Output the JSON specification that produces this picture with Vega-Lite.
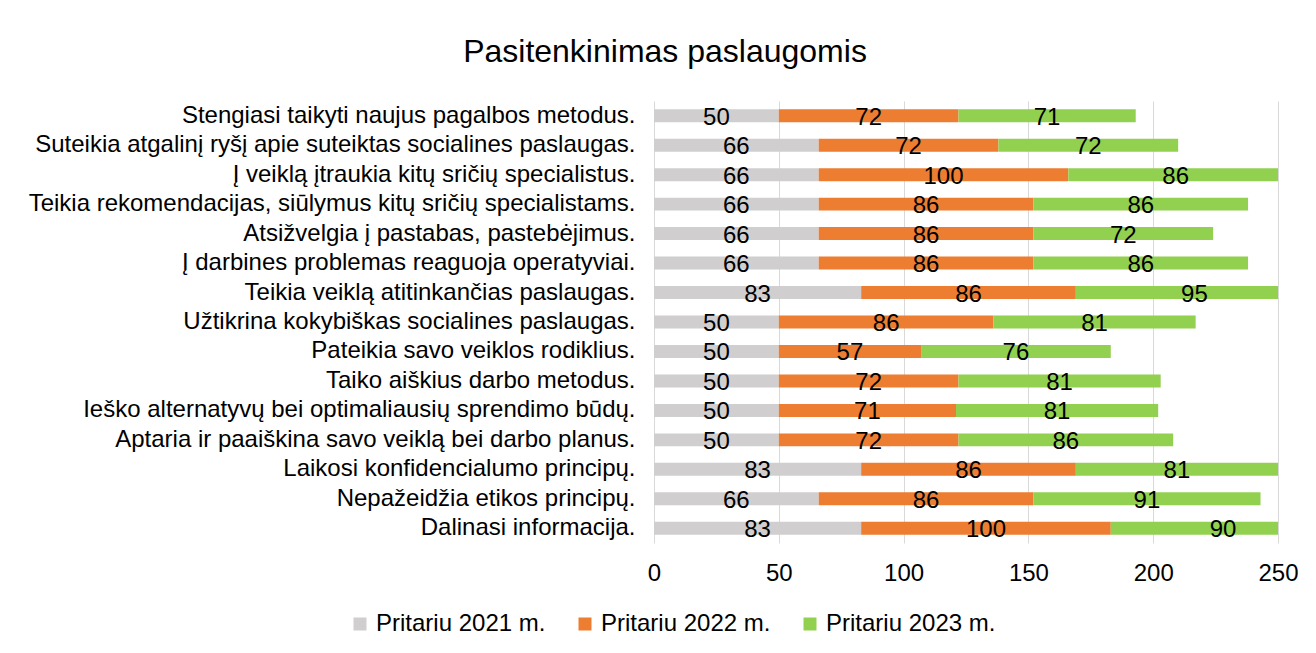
{
  "$schema": "https://vega.github.io/schema/vega-lite/v6.json",
  "width": 624,
  "height": 442,
  "autosize": {"type": "none"},
  "padding": {"left": 654, "top": 101, "right": 38, "bottom": 110},
  "background": "white",
  "title": {
    "text": "Pasitenkinimas paslaugomis",
    "anchor": "middle",
    "frame": "group",
    "dx": -301,
    "offset": 32,
    "font": "Liberation Sans",
    "fontSize": 32,
    "fontWeight": "normal",
    "color": "#000000"
  },
  "config": {
    "view": {"stroke": null},
    "font": "Liberation Sans"
  },
  "data": {
    "values": [
      {"item": "Stengiasi taikyti naujus pagalbos metodus.", "year": "Pritariu 2021 m.", "value": 50},
      {"item": "Stengiasi taikyti naujus pagalbos metodus.", "year": "Pritariu 2022 m.", "value": 72},
      {"item": "Stengiasi taikyti naujus pagalbos metodus.", "year": "Pritariu 2023 m.", "value": 71},
      {"item": "Suteikia atgalinį ryšį apie suteiktas socialines paslaugas.", "year": "Pritariu 2021 m.", "value": 66},
      {"item": "Suteikia atgalinį ryšį apie suteiktas socialines paslaugas.", "year": "Pritariu 2022 m.", "value": 72},
      {"item": "Suteikia atgalinį ryšį apie suteiktas socialines paslaugas.", "year": "Pritariu 2023 m.", "value": 72},
      {"item": "Į veiklą įtraukia kitų sričių specialistus.", "year": "Pritariu 2021 m.", "value": 66},
      {"item": "Į veiklą įtraukia kitų sričių specialistus.", "year": "Pritariu 2022 m.", "value": 100},
      {"item": "Į veiklą įtraukia kitų sričių specialistus.", "year": "Pritariu 2023 m.", "value": 86},
      {"item": "Teikia rekomendacijas, siūlymus kitų sričių specialistams.", "year": "Pritariu 2021 m.", "value": 66},
      {"item": "Teikia rekomendacijas, siūlymus kitų sričių specialistams.", "year": "Pritariu 2022 m.", "value": 86},
      {"item": "Teikia rekomendacijas, siūlymus kitų sričių specialistams.", "year": "Pritariu 2023 m.", "value": 86},
      {"item": "Atsižvelgia į pastabas, pastebėjimus.", "year": "Pritariu 2021 m.", "value": 66},
      {"item": "Atsižvelgia į pastabas, pastebėjimus.", "year": "Pritariu 2022 m.", "value": 86},
      {"item": "Atsižvelgia į pastabas, pastebėjimus.", "year": "Pritariu 2023 m.", "value": 72},
      {"item": "Į darbines problemas reaguoja operatyviai.", "year": "Pritariu 2021 m.", "value": 66},
      {"item": "Į darbines problemas reaguoja operatyviai.", "year": "Pritariu 2022 m.", "value": 86},
      {"item": "Į darbines problemas reaguoja operatyviai.", "year": "Pritariu 2023 m.", "value": 86},
      {"item": "Teikia veiklą atitinkančias paslaugas.", "year": "Pritariu 2021 m.", "value": 83},
      {"item": "Teikia veiklą atitinkančias paslaugas.", "year": "Pritariu 2022 m.", "value": 86},
      {"item": "Teikia veiklą atitinkančias paslaugas.", "year": "Pritariu 2023 m.", "value": 95},
      {"item": "Užtikrina kokybiškas socialines paslaugas.", "year": "Pritariu 2021 m.", "value": 50},
      {"item": "Užtikrina kokybiškas socialines paslaugas.", "year": "Pritariu 2022 m.", "value": 86},
      {"item": "Užtikrina kokybiškas socialines paslaugas.", "year": "Pritariu 2023 m.", "value": 81},
      {"item": "Pateikia savo veiklos rodiklius.", "year": "Pritariu 2021 m.", "value": 50},
      {"item": "Pateikia savo veiklos rodiklius.", "year": "Pritariu 2022 m.", "value": 57},
      {"item": "Pateikia savo veiklos rodiklius.", "year": "Pritariu 2023 m.", "value": 76},
      {"item": "Taiko aiškius darbo metodus.", "year": "Pritariu 2021 m.", "value": 50},
      {"item": "Taiko aiškius darbo metodus.", "year": "Pritariu 2022 m.", "value": 72},
      {"item": "Taiko aiškius darbo metodus.", "year": "Pritariu 2023 m.", "value": 81},
      {"item": "Ieško alternatyvų bei optimaliausių sprendimo būdų.", "year": "Pritariu 2021 m.", "value": 50},
      {"item": "Ieško alternatyvų bei optimaliausių sprendimo būdų.", "year": "Pritariu 2022 m.", "value": 71},
      {"item": "Ieško alternatyvų bei optimaliausių sprendimo būdų.", "year": "Pritariu 2023 m.", "value": 81},
      {"item": "Aptaria ir paaiškina savo veiklą bei darbo planus.", "year": "Pritariu 2021 m.", "value": 50},
      {"item": "Aptaria ir paaiškina savo veiklą bei darbo planus.", "year": "Pritariu 2022 m.", "value": 72},
      {"item": "Aptaria ir paaiškina savo veiklą bei darbo planus.", "year": "Pritariu 2023 m.", "value": 86},
      {"item": "Laikosi konfidencialumo principų.", "year": "Pritariu 2021 m.", "value": 83},
      {"item": "Laikosi konfidencialumo principų.", "year": "Pritariu 2022 m.", "value": 86},
      {"item": "Laikosi konfidencialumo principų.", "year": "Pritariu 2023 m.", "value": 81},
      {"item": "Nepažeidžia etikos principų.", "year": "Pritariu 2021 m.", "value": 66},
      {"item": "Nepažeidžia etikos principų.", "year": "Pritariu 2022 m.", "value": 86},
      {"item": "Nepažeidžia etikos principų.", "year": "Pritariu 2023 m.", "value": 91},
      {"item": "Dalinasi informacija.", "year": "Pritariu 2021 m.", "value": 83},
      {"item": "Dalinasi informacija.", "year": "Pritariu 2022 m.", "value": 100},
      {"item": "Dalinasi informacija.", "year": "Pritariu 2023 m.", "value": 90}
    ]
  },
  "transform": [
    {"stack": "value", "groupby": ["item"], "sort": [{"field": "year", "order": "ascending"}], "as": ["x0", "x1"]},
    {"calculate": "(datum.x0 + datum.x1) / 2", "as": "mid"}
  ],
  "encoding": {
    "y": {
      "field": "item",
      "type": "nominal",
      "sort": [
        "Stengiasi taikyti naujus pagalbos metodus.",
        "Suteikia atgalinį ryšį apie suteiktas socialines paslaugas.",
        "Į veiklą įtraukia kitų sričių specialistus.",
        "Teikia rekomendacijas, siūlymus kitų sričių specialistams.",
        "Atsižvelgia į pastabas, pastebėjimus.",
        "Į darbines problemas reaguoja operatyviai.",
        "Teikia veiklą atitinkančias paslaugas.",
        "Užtikrina kokybiškas socialines paslaugas.",
        "Pateikia savo veiklos rodiklius.",
        "Taiko aiškius darbo metodus.",
        "Ieško alternatyvų bei optimaliausių sprendimo būdų.",
        "Aptaria ir paaiškina savo veiklą bei darbo planus.",
        "Laikosi konfidencialumo principų.",
        "Nepažeidžia etikos principų.",
        "Dalinasi informacija."
      ],
      "scale": {"paddingInner": 0.56, "paddingOuter": 0.28},
      "axis": {
        "title": null,
        "domain": false,
        "ticks": false,
        "grid": false,
        "labelPadding": 19,
        "labelFont": "Liberation Sans",
        "labelFontSize": 24,
        "labelColor": "#000000",
        "labelLimit": 1000
      }
    }
  },
  "layer": [
    {
      "mark": {"type": "bar", "clip": true},
      "encoding": {
        "x": {
          "field": "x0",
          "type": "quantitative",
          "scale": {"domain": [0, 250], "nice": false},
          "axis": {
            "title": null,
            "values": [0, 50, 100, 150, 200, 250],
            "domain": false,
            "ticks": false,
            "grid": true,
            "gridColor": "#D9D9D9",
            "gridWidth": 1,
            "labelPadding": 18,
            "labelFont": "Liberation Sans",
            "labelFontSize": 24,
            "labelColor": "#000000",
            "labelFlush": false
          }
        },
        "x2": {"field": "x1"},
        "color": {
          "field": "year",
          "type": "nominal",
          "scale": {
            "domain": ["Pritariu 2021 m.", "Pritariu 2022 m.", "Pritariu 2023 m."],
            "range": ["#D0CECE", "#ED7D31", "#92D050"]
          },
          "legend": {
            "title": null,
            "orient": "none",
            "direction": "horizontal",
            "legendX": -306,
            "legendY": 511,
            "symbolType": "square",
            "symbolSize": 169,
            "symbolStrokeWidth": 0,
            "labelFont": "Liberation Sans",
            "labelFontSize": 24,
            "labelColor": "#000000",
            "labelOffset": 4,
            "columnPadding": 27,
            "labelLimit": 400
          }
        }
      }
    },
    {
      "mark": {"type": "text", "font": "Liberation Sans", "fontSize": 24, "color": "#000000", "baseline": "middle", "align": "center", "dy": 2},
      "encoding": {
        "x": {"field": "mid", "type": "quantitative"},
        "text": {"field": "value", "type": "quantitative"}
      }
    }
  ]
}
